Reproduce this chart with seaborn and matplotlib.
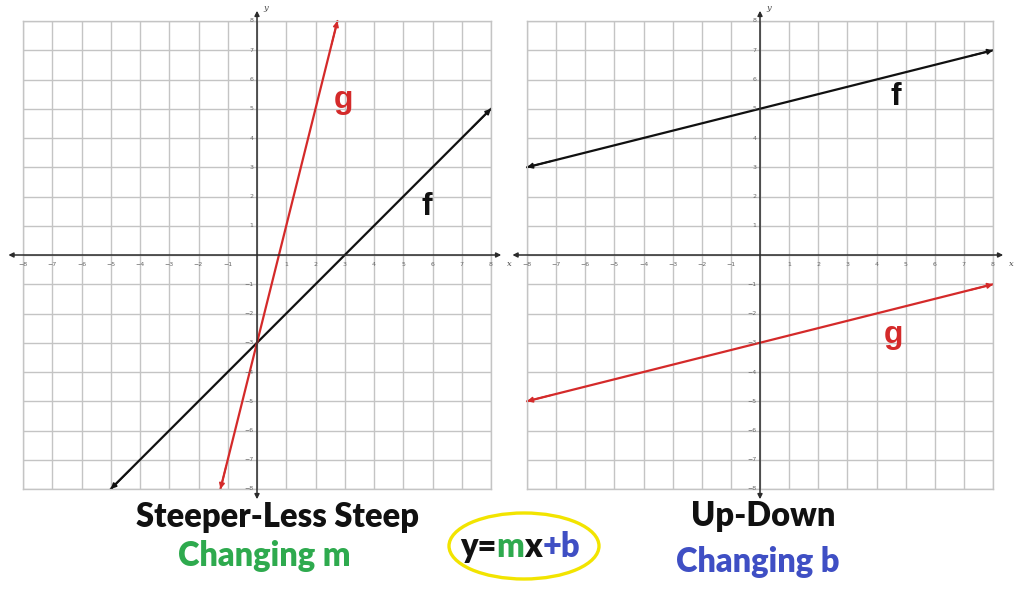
import numpy as np
import matplotlib
matplotlib.use("Agg")
import matplotlib.pyplot as plt
import seaborn as sns
from matplotlib.patches import Ellipse

# grid range
ticks = list(range(-8, 9))

# left panel: changing slope (same intercept -3)
left_f_x = [-5, 8]
left_f_y = [-8, 5]
left_g_x = [-1.25, 2.75]
left_g_y = [-8, 8]

# right panel: changing intercept (same slope 1/4)
right_f_x = [-8, 8]
right_f_y = [3, 7]
right_g_x = [-8, 8]
right_g_y = [-5, -1]

sns.set_style("white")
plt.rcParams['font.family'] = ['Lato', 'DejaVu Sans']

W, H = 1024, 604
fig = plt.figure(figsize=(W / 100, H / 100), dpi=100)
ax1 = fig.add_axes([23 / W, 1 - 489 / H, 468 / W, 468 / H])
ax2 = fig.add_axes([527 / W, 1 - 489 / H, 466 / W, 468 / H])

grid_col = "#c4c4c4"
axis_col = "#2b2b2b"


def setup_grid(ax):
    ax.set_xlim(-8, 8)
    ax.set_ylim(-8, 8)
    ax.set_xticks(ticks)
    ax.set_yticks(ticks)
    ax.grid(True, color=grid_col, lw=1)
    ax.tick_params(length=0, labelbottom=False, labelleft=False)
    for s in ax.spines.values():
        s.set_color(grid_col)
        s.set_linewidth(1)
    ax.set_axisbelow(True)
    # coordinate axes with arrows
    ap = dict(arrowstyle="<|-|>", color=axis_col, lw=1.1, mutation_scale=7,
              shrinkA=0, shrinkB=0)
    ax.annotate("", xy=(8.35, 0), xytext=(-8.5, 0), arrowprops=ap,
                annotation_clip=False)
    ax.annotate("", xy=(0, 8.35), xytext=(0, -8.35), arrowprops=ap,
                annotation_clip=False)
    ax.text(8.55, -0.3, "x", fontsize=6, style="italic", family="DejaVu Serif",
            color="#444", va="center", clip_on=False)
    ax.text(0.2, 8.45, "y", fontsize=6, style="italic", family="DejaVu Serif",
            color="#444", va="center", clip_on=False)
    for t in ticks:
        if t == 0:
            continue
        ax.text(t, -0.25, "\u2212" + str(-t) if t < 0 else str(t), fontsize=4.5,
                color="#666", ha="center", va="top", family="DejaVu Sans")
        ax.text(-0.12, t, "\u2212" + str(-t) if t < 0 else str(t), fontsize=4.5,
                color="#666", ha="right", va="center", family="DejaVu Sans")


def draw_line(ax, xs, ys, color):
    sns.lineplot(x=xs, y=ys, ax=ax, color=color, lw=1.6, clip_on=False)
    ap = dict(arrowstyle="-|>", color=color, lw=1.2, mutation_scale=8,
              shrinkA=0, shrinkB=0)
    for i, j in [(0, 1), (1, 0)]:
        tip = (xs[i], ys[i])
        back = (xs[i] + 0.05 * (xs[j] - xs[i]), ys[i] + 0.05 * (ys[j] - ys[i]))
        ax.annotate("", xy=tip, xytext=back, arrowprops=ap, annotation_clip=False)


for ax in (ax1, ax2):
    setup_grid(ax)

black = "#111111"
red = "#d42a2a"
draw_line(ax1, left_f_x, left_f_y, black)
draw_line(ax1, left_g_x, left_g_y, red)
draw_line(ax2, right_f_x, right_f_y, black)
draw_line(ax2, right_g_x, right_g_y, red)

lab = dict(fontsize=23, fontweight="bold", ha="center", va="center",
           family=["Liberation Sans", "DejaVu Sans"])
ax1.text(5.8, 1.65, "f", color=black, **lab)
ax1.text(2.95, 5.3, "g", color=red, **lab)
ax2.text(4.65, 5.4, "f", color=black, **lab)
ax2.text(4.6, -2.75, "g", color=red, **lab)

# captions
green = "#2eaa4e"
blue = "#3f4fc4"
cap = dict(fontsize=23.5, fontweight="heavy", ha="center", va="center")
fig.text(278 / W, 1 - 517 / H, "Steeper-Less Steep", color=black, **cap)
fig.text(264 / W, 1 - 556 / H, "Changing m", color=green, **cap)
fig.text(763 / W, 1 - 516 / H, "Up-Down", color=black, **cap)
fig.text(758 / W, 1 - 562 / H, "Changing b", color=blue, **cap)

ell = Ellipse((524 / W, 1 - 546 / H), 150 / W, 66 / H, transform=fig.transFigure,
              fill=False, edgecolor="#f2e400", lw=2.4)
fig.patches.append(ell)

# y=mx+b in pieces of colour, centred in the ellipse
parts = [("y=", black), ("m", green), ("x", black), ("+b", blue)]
renderer = fig.canvas.get_renderer()
pieces = []
x0 = 0
for txt, col in parts:
    t = fig.text(x0 / W, 1 - 547 / H, txt, fontsize=23.5, fontweight="heavy",
                 color=col, ha="left", va="center")
    bb = t.get_window_extent(renderer)
    x0 = bb.x1
    pieces.append(t)
shift = 520 - x0 / 2
for t in pieces:
    px, py = t.get_position()
    t.set_position((px + shift / W, py))

fig.savefig("out.png", dpi=100)
